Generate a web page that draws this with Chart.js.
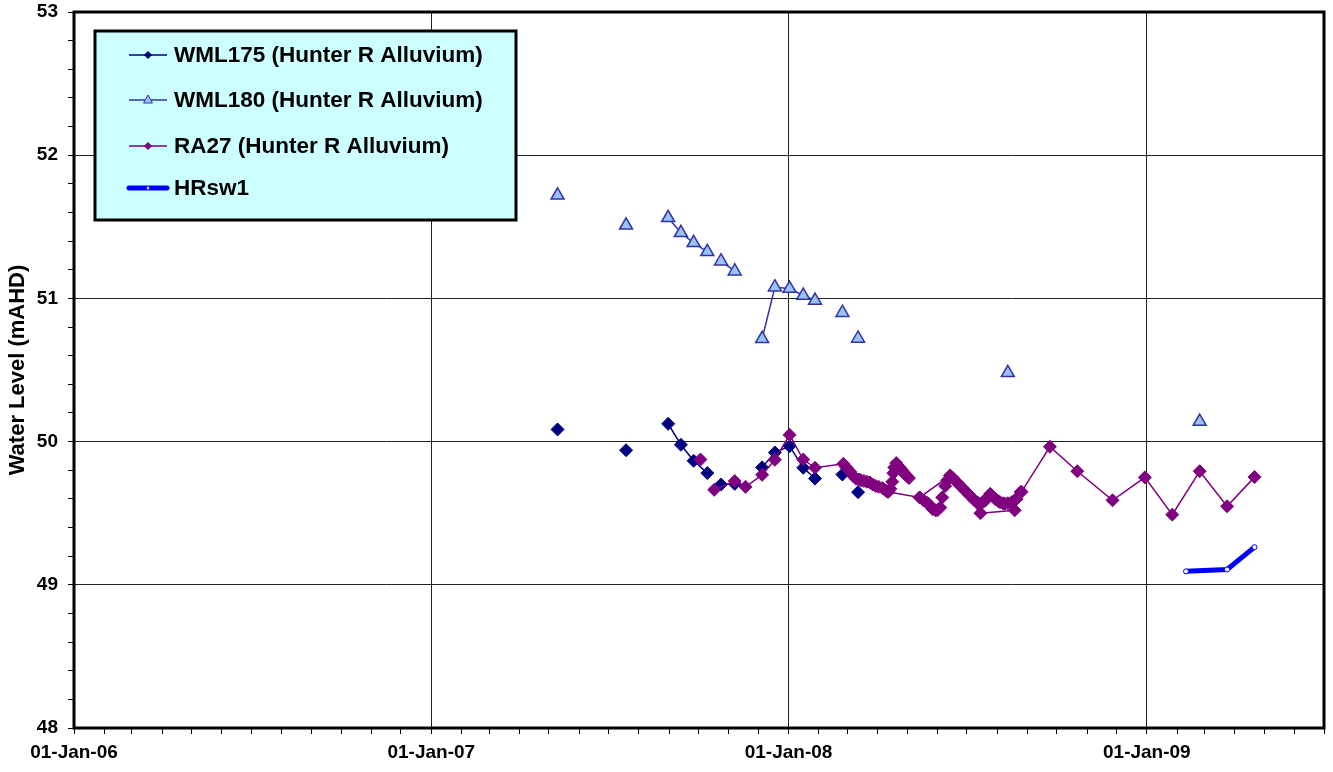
<!DOCTYPE html>
<html>
<head>
<meta charset="utf-8">
<script src="https://cdn.jsdelivr.net/npm/chart.js@4.4.0/dist/chart.umd.min.js"></script>
<style>
  html, body { margin: 0; padding: 0; background: #fff; }
  #wrap { width: 1333px; height: 772px; position: relative; }
</style>
</head>
<body>
<div id="wrap"><canvas id="levelChart"></canvas></div>
<script>

// axis range and labels
const xStart = '2006-01-01';
const xEnd = '2009-07-01';
const yearTicks = ['2006-01-01', '2007-01-01', '2008-01-01', '2009-01-01'];
const yTickLabels = [48, 49, 50, 51, 52, 53];

// null = break in the line
const wml175Dates = ['2007-05-10', null, '2007-07-19', null,
  '2007-08-31', '2007-09-13', '2007-09-26', '2007-10-10', null,
  '2007-10-24', '2007-11-07', null,
  '2007-12-05', '2007-12-18', '2008-01-02', '2008-01-16', '2008-01-28', null,
  '2008-02-25', null, '2008-03-12'];
const wml175Levels = [50.085, null, 49.94, null,
  50.124, 49.978, 49.866, 49.78, null,
  49.70, 49.705, null,
  49.82, 49.924, 49.968, 49.817, 49.742, null,
  49.77, null, 49.647];

const wml180Dates = ['2007-05-10', null, '2007-07-19', null,
  '2007-08-31', '2007-09-13', '2007-09-26', '2007-10-10', null,
  '2007-10-24', '2007-11-07', null,
  '2007-12-05', '2007-12-18', '2008-01-02', '2008-01-16', '2008-01-28', null,
  '2008-02-25', null, '2008-03-12', null, '2008-08-12', null, '2009-02-24'];
const wml180Levels = [51.72, null, 51.51, null,
  51.563, 51.458, 51.388, 51.325, null,
  51.26, 51.19, null,
  50.718, 51.078, 51.069, 51.02, 50.985, null,
  50.90, null, 50.72, null, 50.48, null, 50.14];

const ra27Dates = ['2007-10-03', null,
  '2007-10-17', '2007-11-07', '2007-11-18', '2007-12-05', '2007-12-18',
  '2008-01-02', '2008-01-16', '2008-01-28',
  '2008-02-26', '2008-02-29', '2008-03-04', '2008-03-07', '2008-03-10', '2008-03-13',
  '2008-03-15', '2008-03-18', '2008-03-21', '2008-03-24', '2008-03-27', '2008-03-30',
  '2008-04-02', '2008-04-06', '2008-04-09', '2008-04-11',
  '2008-05-14', '2008-06-14', '2008-07-15', '2008-08-19', '2008-08-26',
  '2008-09-24', '2008-10-22', '2008-11-27', '2008-12-30',
  '2009-01-27', '2009-02-24', '2009-03-24', '2009-04-21', null,
  '2008-04-12', '2008-04-14', '2008-04-16', '2008-04-17', '2008-04-18', '2008-04-20',
  '2008-04-22', '2008-04-24', '2008-04-26', '2008-04-28', '2008-04-30', '2008-05-03', null,
  '2008-05-14', '2008-05-18', '2008-05-21', '2008-05-23', '2008-05-27', '2008-05-30',
  '2008-06-01', '2008-06-04', '2008-06-06', '2008-06-09', '2008-06-11', '2008-06-14',
  '2008-06-17', '2008-06-19', '2008-06-22', '2008-06-24', '2008-06-27', '2008-06-29',
  '2008-07-02', '2008-07-04', '2008-07-07', '2008-07-09', '2008-07-12', '2008-07-15',
  '2008-07-18', '2008-07-20', '2008-07-23', '2008-07-25', '2008-07-28', '2008-07-30',
  '2008-08-02', '2008-08-04', '2008-08-07', '2008-08-09', '2008-08-12', '2008-08-16',
  '2008-08-19', '2008-08-21', '2008-08-25'];
const ra27Levels = [49.875, null,
  49.663, 49.724, 49.684, 49.768, 49.873,
  50.047, 49.875, 49.817,
  49.845, 49.82, 49.79, 49.76, 49.74, 49.735,
  49.73, 49.725, 49.72, 49.715, 49.70, 49.69,
  49.685, 49.675, 49.66, 49.65,
  49.61, 49.763, 49.50, 49.52, 49.65,
  49.964, 49.793, 49.59, 49.75,
  49.49, 49.793, 49.548, 49.752, null,
  49.65, 49.67, 49.72, 49.78, 49.82, 49.85,
  49.83, 49.815, 49.80, 49.78, 49.765, 49.745, null,
  49.61, 49.589, 49.575, 49.566, 49.53, 49.52,
  49.52, 49.54, 49.61, 49.69, 49.73, 49.763,
  49.745, 49.728, 49.71, 49.693, 49.675, 49.658,
  49.64, 49.624, 49.605, 49.589, 49.575, 49.566,
  49.58, 49.589, 49.615, 49.635, 49.615, 49.60,
  49.585, 49.577, 49.57, 49.566, 49.57, 49.577,
  49.59, 49.60, 49.647];

const hrsw1Dates = ['2009-02-10', '2009-03-24', '2009-04-21'];
const hrsw1Levels = [49.094, 49.107, 49.263];

const seriesNames = ['WML175 (Hunter R Alluvium)', 'WML180 (Hunter R Alluvium)',
  'RA27 (Hunter R Alluvium)', 'HRsw1'];

const months = ['Jan','Feb','Mar','Apr','May','Jun','Jul','Aug','Sep','Oct','Nov','Dec'];

function toTime(s) {
  if (s === null) return null;
  var p = s.split('-');
  return Date.UTC(+p[0], +p[1] - 1, +p[2]);
}

function pairUp(dates, levels) {
  return dates.map(function (d, i) { return {x: toTime(d), y: levels[i]}; });
}

var yearTimes = yearTicks.map(toTime);
function isYearTick(v) { return yearTimes.indexOf(v) >= 0; }
function isLabelledLevel(v) {
  return yTickLabels.some(function (l) { return Math.abs(l - v) < 1e-6; });
}

var axisFont = {family: "'Liberation Sans Narrow', 'Arial Narrow', Arial, sans-serif", size: 19, weight: 'bold'};

function drawMarker(ctx, style, x, y, r, fill, stroke, lw) {
  ctx.save();
  ctx.fillStyle = fill; ctx.strokeStyle = stroke; ctx.lineWidth = lw;
  ctx.beginPath();
  if (style === 'rectRot') {
    ctx.moveTo(x, y - r); ctx.lineTo(x + r, y); ctx.lineTo(x, y + r); ctx.lineTo(x - r, y);
    ctx.closePath();
  } else if (style === 'triangle') {
    ctx.moveTo(x, y - r); ctx.lineTo(x + r * 0.9, y + r * 0.6); ctx.lineTo(x - r * 0.9, y + r * 0.6);
    ctx.closePath();
  } else {
    ctx.arc(x, y, r, 0, Math.PI * 2);
  }
  ctx.fill(); ctx.stroke();
  ctx.restore();
}

// black frame round the plot area
const plotFrame = {
  id: 'plotFrame',
  beforeDatasetsDraw(chart) {
    var a = chart.chartArea, ctx = chart.ctx;
    ctx.save();
    ctx.strokeStyle = '#000';
    ctx.lineWidth = 3;
    ctx.strokeRect(a.left, a.top, a.right - a.left, a.bottom - a.top);
    ctx.restore();
  }
};

// legend box drawn inside the plot, like the excel one
const boxLegend = {
  id: 'boxLegend',
  afterDraw(chart) {
    var ctx = chart.ctx;
    var rows = [55, 100, 146, 188];
    ctx.save();
    ctx.fillStyle = '#CCFFFF';
    ctx.fillRect(95, 31, 421, 189);
    ctx.lineWidth = 3;
    ctx.strokeStyle = '#000';
    ctx.strokeRect(95, 31, 421, 189);
    chart.data.datasets.forEach(function (ds, i) {
      var y = rows[i];
      ctx.strokeStyle = ds.borderColor;
      ctx.lineWidth = ds.borderWidth;
      ctx.lineCap = i === 3 ? 'round' : 'butt';
      ctx.beginPath(); ctx.moveTo(129, y); ctx.lineTo(167, y); ctx.stroke();
      drawMarker(ctx, ds.pointStyle, 148, y, i === 3 ? 1.5 : (i === 1 ? 5 : 3.5),
        ds.pointBackgroundColor, ds.pointBorderColor, i === 3 ? 0.5 : 1);
      ctx.fillStyle = '#000';
      ctx.font = 'bold 22.5px Arial, sans-serif';
      ctx.textBaseline = 'middle';
      ctx.fillText(ds.label, 174, y + 1);
    });
    ctx.restore();
  }
};

new Chart(document.getElementById('levelChart'), {
  type: 'line',
  data: {
    datasets: [{
      label: seriesNames[0],
      data: pairUp(wml175Dates, wml175Levels),
      borderColor: '#000080',
      borderWidth: 1.5,
      pointStyle: 'rectRot',
      pointRadius: 6.5,
      pointBackgroundColor: '#000080',
      pointBorderColor: '#000080',
      pointBorderWidth: 1,
      order: 1
    }, {
      label: seriesNames[1],
      data: pairUp(wml180Dates, wml180Levels),
      borderColor: '#3333A8',
      borderWidth: 1.5,
      pointStyle: 'triangle',
      pointRadius: 7.5,
      pointBackgroundColor: '#99C2F5',
      pointBorderColor: '#3333A8',
      pointBorderWidth: 1.5,
      order: 2
    }, {
      label: seriesNames[2],
      data: pairUp(ra27Dates, ra27Levels),
      borderColor: '#800080',
      borderWidth: 1.5,
      pointStyle: 'rectRot',
      pointRadius: 6.5,
      pointBackgroundColor: '#800080',
      pointBorderColor: '#800080',
      pointBorderWidth: 1,
      order: 0
    }, {
      label: seriesNames[3],
      data: pairUp(hrsw1Dates, hrsw1Levels),
      borderColor: '#0000FF',
      borderWidth: 5,
      pointStyle: 'circle',
      pointRadius: 2.5,
      pointBackgroundColor: '#FFFFFF',
      pointBorderColor: '#0000FF',
      pointBorderWidth: 1,
      order: 0
    }]
  },
  options: {
    responsive: true,
    maintainAspectRatio: false,
    animation: false,
    events: [],
    layout: {padding: {top: 12, right: 9, bottom: 0, left: 0}},
    plugins: {
      legend: {display: false},
      tooltip: {enabled: false}
    },
    scales: {
      x: {
        type: 'linear',
        min: toTime(xStart),
        max: toTime(xEnd),
        afterBuildTicks: function (scale) {
          var ticks = [];
          var d = new Date(toTime(xStart));
          var yr = d.getUTCFullYear(), m = d.getUTCMonth();
          var end = toTime(xEnd);
          while (Date.UTC(yr, m, 1) <= end) {
            ticks.push({value: Date.UTC(yr, m, 1)});
            m++;
            if (m === 12) { m = 0; yr++; }
          }
          scale.ticks = ticks;
        },
        afterFit: function (scale) { scale.height = 44; },
        border: {display: false},
        grid: {
          color: function (c) { return c.tick && isYearTick(c.tick.value) ? '#222' : 'rgba(0,0,0,0)'; },
          tickColor: '#000',
          tickLength: 6,
          lineWidth: 1
        },
        ticks: {
          autoSkip: false,
          maxRotation: 0,
          padding: 7,
          color: '#000',
          font: axisFont,
          callback: function (v) {
            if (!isYearTick(v)) return '';
            var d = new Date(v);
            return '01-' + months[d.getUTCMonth()] + '-' + String(d.getUTCFullYear()).slice(2);
          }
        }
      },
      y: {
        min: yTickLabels[0],
        max: yTickLabels[yTickLabels.length - 1],
        afterBuildTicks: function (scale) {
          var ticks = [];
          for (var k = 0; k <= 25; k++) ticks.push({value: Math.round((48 + k * 0.2) * 10) / 10});
          scale.ticks = ticks;
        },
        afterFit: function (scale) {
          scale.width = 74;
          scale.paddingTop = 0;
          scale.paddingBottom = 0;
        },
        border: {display: false},
        grid: {
          color: function (c) { return c.tick && isLabelledLevel(c.tick.value) ? '#222' : 'rgba(0,0,0,0)'; },
          tickColor: '#000',
          tickLength: 6,
          lineWidth: 1
        },
        ticks: {
          padding: 10,
          color: '#000',
          font: axisFont,
          callback: function (v) { return isLabelledLevel(v) ? String(Math.round(v)) : ''; }
        },
        title: {
          display: true,
          text: 'Water Level (mAHD)',
          color: '#000',
          font: {family: 'Arial, sans-serif', size: 22, weight: 'bold'},
          padding: {top: 5, bottom: 0}
        }
      }
    }
  },
  plugins: [plotFrame, boxLegend]
});
</script>
</body>
</html>
